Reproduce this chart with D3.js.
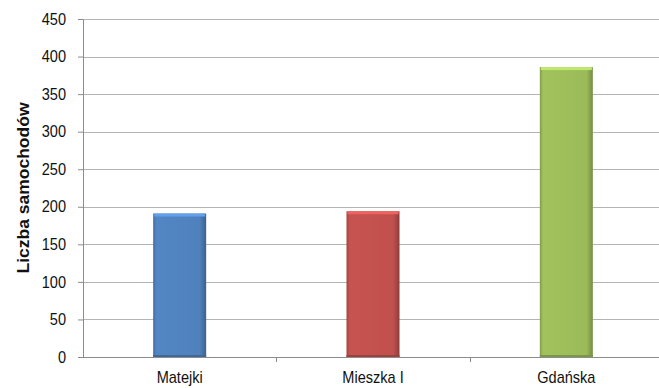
<!DOCTYPE html>
<html>
<head>
<meta charset="utf-8">
<script src="https://cdn.jsdelivr.net/npm/d3@7"></script>
<style>
  html, body { margin: 0; padding: 0; background: #fff; }
  svg { display: block; font-family: "Liberation Sans", Arial, sans-serif; }
</style>
</head>
<body>
<svg id="chart" width="659" height="388"></svg>
<script>
// Street names and the number of cars counted on each
const categories = ["Matejki", "Mieszka I", "Gdańska"];
const values = [191, 194, 386];
const barColors = ["#4f81bd", "#c0504d", "#9bbb59"];
const yTicks = [0, 50, 100, 150, 200, 250, 300, 350, 400, 450];
const yTitle = "Liczba samochodów";

const svg = d3.select("#chart");
const margin = { left: 83, top: 19, bottom: 31 };
const plotW = 580;
const H = 388;
const plotH = H - margin.top - margin.bottom;
const squeeze = 0.91; // slightly condensed label glyphs

const x = d3.scaleBand().domain(categories).range([0, plotW]).paddingInner(0).paddingOuter(0);
const y = d3.scaleLinear().domain([0, 450]).range([plotH, 0]);

const defs = svg.append("defs");
barColors.forEach((c, i) => {
  const base = d3.color(c);
  const g = defs.append("linearGradient").attr("id", "bar" + i)
    .attr("x1", 0).attr("x2", 1).attr("y1", 0).attr("y2", 0);
  g.append("stop").attr("offset", "0%").attr("stop-color", base.darker(0.5));
  g.append("stop").attr("offset", "6%").attr("stop-color", base.brighter(0.1));
  g.append("stop").attr("offset", "88%").attr("stop-color", base);
  g.append("stop").attr("offset", "100%").attr("stop-color", base.darker(0.8));
});

const g = svg.append("g").attr("transform", `translate(${margin.left},${margin.top})`);

// horizontal gridlines
g.selectAll("line.grid").data(yTicks.filter(d => d > 0)).join("line")
  .attr("class", "grid")
  .attr("x1", 0).attr("x2", plotW)
  .attr("y1", d => Math.round(y(d)) + 0.5).attr("y2", d => Math.round(y(d)) + 0.5)
  .attr("stroke", "#b4b4b4").attr("stroke-width", 1);

// condense a text element horizontally around its anchor point
function condense(sel) {
  sel.each(function () {
    const t = d3.select(this);
    const tx = +t.attr("x") || 0;
    t.attr("x", 0).attr("transform", `translate(${tx},0) scale(${squeeze},1)`);
  });
}

// y axis
const yAxis = d3.axisLeft(y).tickValues(yTicks).tickSize(5).tickPadding(12);
const ya = g.append("g").call(yAxis);
ya.select(".domain").attr("stroke", "#8c8c8c").attr("d", `M0.5,${plotH + 0.5}V0.5`);
ya.selectAll(".tick line").attr("stroke", "#8c8c8c");
ya.selectAll(".tick text").attr("font-size", "16px").attr("fill", "#111")
  .attr("font-family", "'Liberation Sans', Arial, sans-serif")
  .attr("x", -17).call(condense);

// bars
g.selectAll("g.bar").data(categories).join("g").attr("class", "bar")
  .each(function (d, i) {
    const bw = 53;
    const bx = x(d) + x.bandwidth() / 2 - bw / 2;
    const by = y(values[i]);
    const bh = plotH - by;
    const sel = d3.select(this);
    sel.append("rect").attr("x", bx).attr("y", by).attr("width", bw).attr("height", bh)
      .attr("fill", `url(#bar${i})`);
    // bevel: light top edge, dark bottom edge
    sel.append("rect").attr("x", bx + 1).attr("y", by).attr("width", bw - 2).attr("height", 3)
      .attr("fill", d3.color(barColors[i]).brighter(0.6));
    sel.append("rect").attr("x", bx).attr("y", by + bh - 2).attr("width", bw).attr("height", 2)
      .attr("fill", d3.color(barColors[i]).darker(0.6));
  });

// x axis
const xAxis = d3.axisBottom(x).tickSize(0).tickPadding(15);
const xa = g.append("g").attr("transform", `translate(0,${plotH})`).call(xAxis);
xa.select(".domain").attr("stroke", "#8c8c8c").attr("d", `M0,0.5H${plotW}`);
xa.selectAll(".tick text").attr("font-size", "16px").attr("fill", "#111")
  .attr("font-family", "'Liberation Sans', Arial, sans-serif").call(condense);
// category boundary ticks
xa.selectAll("line.sep").data(categories.slice(1)).join("line").attr("class", "sep")
  .attr("x1", d => Math.round(x(d)) + 0.5).attr("x2", d => Math.round(x(d)) + 0.5)
  .attr("y1", 0).attr("y2", 5).attr("stroke", "#8c8c8c");

// y axis title
svg.append("text")
  .attr("transform", `translate(29,${margin.top + plotH / 2}) rotate(-90) scale(1,${squeeze})`)
  .attr("text-anchor", "middle")
  .attr("font-size", "17.5px").attr("font-weight", "bold").attr("fill", "#111")
  .text(yTitle);
</script>
</body>
</html>
